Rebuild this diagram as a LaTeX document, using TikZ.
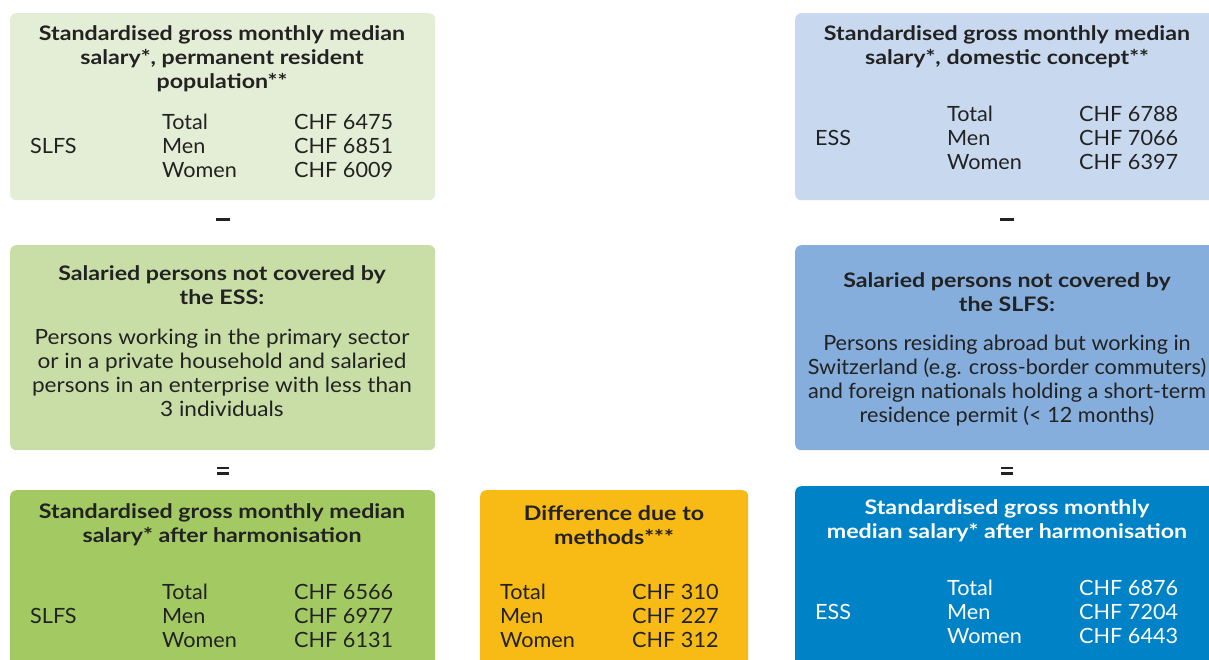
\documentclass[tikz,border=0pt]{standalone}
\usepackage{fontspec}
\setmainfont{Lato}
\newfontfamily\ttlfont{Lato}[FakeStretch=1.16]
\newfontfamily\bodyfont{Lato}[FakeStretch=1.075]
\newfontfamily\colfont{Lato}[FakeStretch=1.03]
\begin{document}
\definecolor{cA}{HTML}{E4EDD5}
\definecolor{cB}{HTML}{C8D9EF}
\definecolor{cC}{HTML}{C9DEA7}
\definecolor{cD}{HTML}{86AEDC}
\definecolor{cE}{HTML}{A3C963}
\definecolor{cF}{HTML}{F8BA15}
\definecolor{cG}{HTML}{0082C6}
\definecolor{txt}{HTML}{222222}
\begin{tikzpicture}[x=1pt,y=-1pt,
  panel/.style={draw=none,rounded corners=6pt,anchor=north west,inner sep=0pt},
  ttl/.style={font=\ttlfont\fontsize{20}{24}\selectfont\bfseries,align=center,text=txt,inner sep=0pt,anchor=center},
  body/.style={font=\bodyfont\fontsize{21}{24}\selectfont,align=center,text=txt,inner sep=0pt,anchor=center},
  bodyn/.style={font=\colfont\fontsize{21}{24}\selectfont,align=center,text=txt,inner sep=0pt,anchor=center},
  col/.style={font=\colfont\fontsize{21}{24}\selectfont,align=left,text=txt,inner sep=0pt,anchor=west},
  sign/.style={fill=txt,inner sep=0pt,minimum width=14pt,minimum height=2.6pt},
  eqsign/.style={inner sep=0pt,minimum width=12pt,minimum height=8pt,path picture={
     \fill[txt] (path picture bounding box.north west) rectangle ([yshift=-2.6pt]path picture bounding box.north east);
     \fill[txt] (path picture bounding box.south west) rectangle ([yshift=2.6pt]path picture bounding box.south east);}}]
\useasboundingbox (0,0) rectangle (1209,659);
\clip (0,0) rectangle (1209,659);
\node[panel,fill=cA,minimum width=425pt,minimum height=187pt] (b1) at (10,13) {};
\node[panel,fill=cB,minimum width=440pt,minimum height=187pt] (b2) at (795,13) {};
\node[panel,fill=cC,minimum width=425pt,minimum height=205pt] (b3) at (10,245) {};
\node[panel,fill=cD,minimum width=440pt,minimum height=205pt] (b4) at (795,245) {};
\node[panel,fill=cE,minimum width=425pt,minimum height=200pt] (b5) at (10,490) {};
\node[panel,fill=cF,minimum width=268pt,minimum height=200pt] (b6) at (480,490) {};
\node[panel,fill=cG,minimum width=440pt,minimum height=200pt] (b7) at (795,486) {};
% box 1
\node[ttl] (t1) at (222,59) {Standardised gross monthly median\\salary*, permanent resident\\population**};
\node[col] (s1) at (30,146) {SLFS};
\node[col] (g1) at (162,146) {Total\\Men\\Women};
\node[col] (v1) at (294,146) {CHF 6475\\CHF 6851\\CHF 6009};
% box 2
\node[ttl] (t2) at (1007,47) {Standardised gross monthly median\\salary*, domestic concept**};
\node[col] (s2) at (815,138) {ESS};
\node[col] (g2) at (947,138) {Total\\Men\\Women};
\node[col] (v2) at (1079,138) {CHF 6788\\CHF 7066\\CHF 6397};
% signs
\node[sign] (m1) at (223,219.5) {};
\node[sign] (m2) at (1007,219.5) {};
\node[eqsign] (e1) at (223,470.5) {};
\node[eqsign] (e2) at (1007,470.5) {};
% box 3
\node[ttl] (t3) at (222,285) {Salaried persons not covered by\\the ESS:};
\node[body] (d3) at (222,373) {Persons working in the primary sector\\or in a private household and salaried\\persons in an enterprise with less than\\3 individuals};
% box 4
\node[ttl] (t4) at (1007,292) {Salaried persons not covered by\\the SLFS:};
\node[bodyn] (d4) at (1007,381) {Persons residing abroad but working in\\Switzerland (e.g. cross-border commuters)\\and foreign nationals holding a short-term\\residence permit (< 12 months)};
% box 5
\node[ttl] (t5) at (222,525) {Standardised gross monthly median\\salary* after harmonisation};
\node[col] (s5) at (30,616) {SLFS};
\node[col] (g5) at (162,616) {Total\\Men\\Women};
\node[col] (v5) at (294,616) {CHF 6566\\CHF 6977\\CHF 6131};
% box 6
\node[ttl] (t6) at (614,525) {Difference due to\\methods***};
\node[col] (g6) at (500,616) {Total\\Men\\Women};
\node[col] (v6) at (632,616) {CHF 310\\CHF 227\\CHF 312};
% box 7
\node[ttl,text=white] (t7) at (1007,521) {Standardised gross monthly\\median salary* after harmonisation};
\node[col,text=white] (s7) at (815,612) {ESS};
\node[col,text=white] (g7) at (947,612) {Total\\Men\\Women};
\node[col,text=white] (v7) at (1079,612) {CHF 6876\\CHF 7204\\CHF 6443};
\end{tikzpicture}
\end{document}
